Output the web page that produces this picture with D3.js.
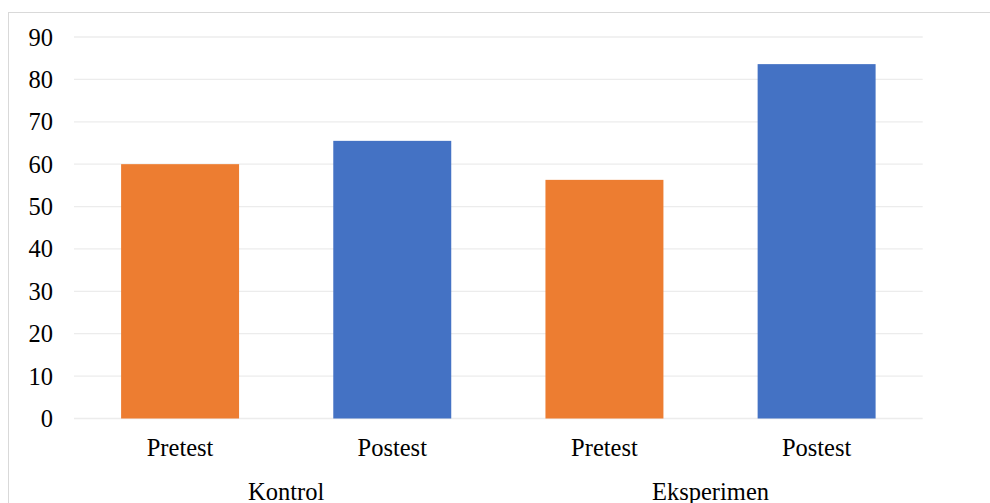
<!DOCTYPE html>
<html>
<head>
<meta charset="utf-8">
<script src="https://cdn.jsdelivr.net/npm/d3@7"></script>
<style>
  html, body { margin: 0; padding: 0; background: #fff; }
  svg { display: block; }
  text { font-family: "Liberation Serif", "Times New Roman", serif; fill: #000; }
</style>
</head>
<body>
<svg id="chart" width="990" height="503"></svg>
<script>
// Mean scores per group and test
const groups = ["Kontrol", "Eksperimen"];
const tests = ["Pretest", "Postest"];
const kontrolScores = [60.0, 65.5];
const eksperimenScores = [56.3, 83.6];
const yTicks = [0, 10, 20, 30, 40, 50, 60, 70, 80, 90];
const testColors = { Pretest: "#ED7D31", Postest: "#4472C4" };

const rows = [];
[kontrolScores, eksperimenScores].forEach((vals, gi) => {
  vals.forEach((v, ti) => rows.push({ group: groups[gi], test: tests[ti], value: v, key: groups[gi] + "|" + tests[ti] }));
});

const svg = d3.select("#chart");

// Outer chart frame
svg.append("rect")
  .attr("x", 8.5).attr("y", 12.5)
  .attr("width", 1000).attr("height", 600)
  .attr("fill", "#fff")
  .attr("stroke", "#d9d9d9").attr("stroke-width", 1);

const plot = { left: 74, right: 922.7, top: 37, bottom: 418.5 };

const x = d3.scaleBand()
  .domain(rows.map(d => d.key))
  .range([plot.left, plot.right])
  .paddingInner(0.444)
  .paddingOuter(0.222);

const y = d3.scaleLinear()
  .domain([0, 90])
  .range([plot.bottom, plot.top]);

// Horizontal gridlines
svg.append("g")
  .selectAll("line")
  .data(yTicks)
  .join("line")
  .attr("x1", plot.left).attr("x2", plot.right)
  .attr("y1", d => y(d)).attr("y2", d => y(d))
  .attr("stroke", "#ececec").attr("stroke-width", 1.3);

// Y axis labels
svg.append("g")
  .selectAll("text")
  .data(yTicks)
  .join("text")
  .attr("x", 53)
  .attr("y", d => y(d) + 8.5)
  .attr("text-anchor", "end")
  .attr("font-size", 24.5)
  .text(d => d);

// Bars
svg.append("g")
  .selectAll("rect")
  .data(rows)
  .join("rect")
  .attr("x", d => x(d.key))
  .attr("width", x.bandwidth())
  .attr("y", d => y(d.value))
  .attr("height", d => y(0) - y(d.value))
  .attr("fill", d => testColors[d.test]);

// Test labels under each bar
svg.append("g")
  .selectAll("text")
  .data(rows)
  .join("text")
  .attr("x", d => x(d.key) + x.bandwidth() / 2)
  .attr("y", 456)
  .attr("text-anchor", "middle")
  .attr("font-size", 24.5)
  .text(d => d.test);

// Group labels centred under their pair of bars
svg.append("g")
  .selectAll("text")
  .data(groups)
  .join("text")
  .attr("x", g => {
    const ks = rows.filter(r => r.group === g).map(r => x(r.key) + x.bandwidth() / 2);
    return d3.mean(ks);
  })
  .attr("y", 499.5)
  .attr("text-anchor", "middle")
  .attr("font-size", 24.5)
  .text(g => g);
</script>
</body>
</html>
